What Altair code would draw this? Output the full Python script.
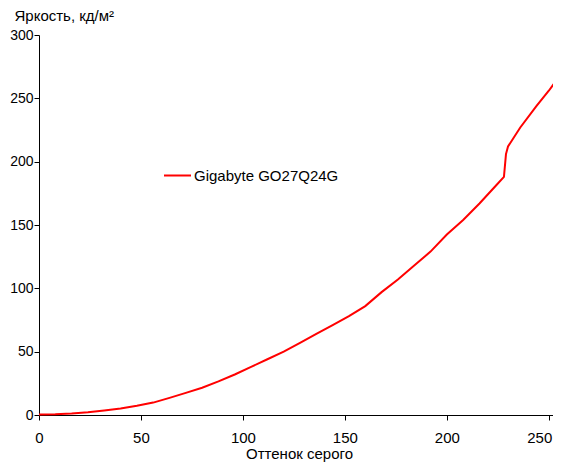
import altair as alt
import pandas as pd

gray = [0, 8, 16, 24, 32, 40, 48, 56, 64, 72, 80, 88, 96, 104, 112, 120, 128,
        136, 144, 152, 160, 168, 176, 184, 192, 200, 208, 216, 224, 228, 229,
        230, 236, 244, 250, 255]
lum = [0.3, 0.5, 1.2, 2.2, 3.6, 5.2, 7.3, 9.8, 13.5, 17.5, 21.5, 26.5, 32, 38,
       44, 50, 57, 64, 71, 78, 86, 97, 107, 118, 129, 142.5, 154, 167, 181,
       188, 206, 212, 227, 244, 256, 267]
series = ["Gigabyte GO27Q24G"] * len(gray)

df = pd.DataFrame({"g": gray, "l": lum, "s": series})

FONT = "Liberation Sans"

chart = alt.Chart(df).mark_line(strokeWidth=2).encode(
    x=alt.X("g:Q", scale=alt.Scale(domain=[0, 255], nice=False, zero=False),
            axis=alt.Axis(title="Оттенок серого", values=[0, 50, 100, 150, 200, 250],
                          grid=False, domainColor="black", tickColor="black",
                          tickSize=5, labelFontSize=15, titleFontSize=15,
                          labelColor="black", titleColor="black",
                          labelFont=FONT, titleFont=FONT, titleFontWeight="normal",
                          labelPadding=10, titleBaseline="alphabetic", titleY=43,
                          labelFlush=False,
                          labelAlign={"condition": {"test": "datum.value == 250", "value": "right"},
                                      "value": "center"},
                          labelOffset={"condition": {"test": "datum.value == 250", "value": 3},
                                       "value": 0})),
    y=alt.Y("l:Q", scale=alt.Scale(domain=[0, 300], nice=False),
            axis=alt.Axis(title="Яркость, кд/м²", values=[0, 50, 100, 150, 200, 250, 300],
                          grid=False, domainColor="black", tickColor="black",
                          tickSize=5, labelFontSize=14, titleFontSize=15,
                          labelColor="black", titleColor="black",
                          labelFont=FONT, titleFont=FONT, titleFontWeight="normal",
                          labelPadding=1, titleAngle=0, titleAlign="left",
                          titleBaseline="alphabetic", titleX=-25, titleY=-15)),
    color=alt.Color("s:N", scale=alt.Scale(range=["#ff0000"]),
                    legend=alt.Legend(title=None, orient="none", legendX=124,
                                      legendY=126, symbolType="stroke",
                                      symbolSize=729, symbolStrokeWidth=2,
                                      labelFontSize=15, labelFont=FONT,
                                      labelColor="black", labelOffset=2)),
).properties(
    width=520, height=380,
    autosize=alt.AutoSizeParams(type="none"),
    padding={"left": 31, "top": 27, "right": -6, "bottom": 47},
).configure_view(stroke=None)

chart.save("out.html", embed_options={"renderer": "svg", "actions": False})
